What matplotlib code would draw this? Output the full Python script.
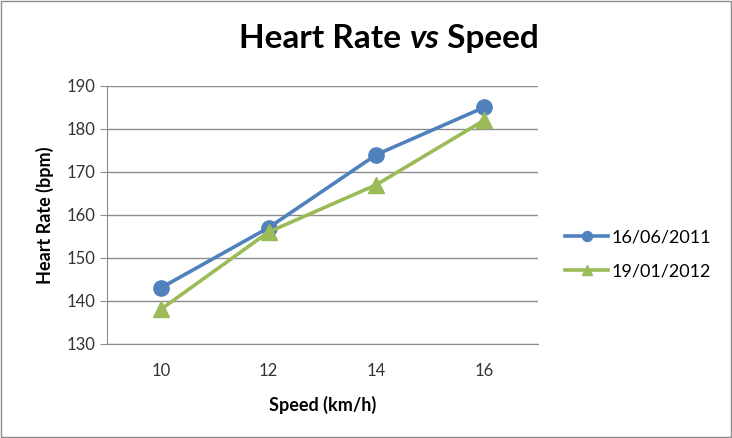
import matplotlib.pyplot as plt
from matplotlib.patches import Rectangle

speeds = ["10", "12", "14", "16"]
hr_2011 = [143, 157, 174, 185]
hr_2012 = [138, 156, 167, 182]
labels = ["16/06/2011", "19/01/2012"]

plt.rcParams['font.family'] = ['Lato', 'DejaVu Sans']

fig = plt.figure(figsize=(7.32, 4.38), dpi=100)
ax = fig.add_axes([0.146, 0.215, 0.589, 0.589])

x = range(len(speeds))
ax.plot(x, hr_2011, color="#4F81BD", lw=2.6, marker="o", ms=11, label=labels[0])
ax.plot(x, hr_2012, color="#9BBB59", lw=2.6, marker="^", ms=11, label=labels[1])

ax.set_xlim(-0.5, 3.5)
ax.set_ylim(130, 190)
ax.set_yticks(range(130, 191, 10))
ax.set_xticks(list(x))
ax.set_xticklabels(speeds)
ax.grid(axis="y", color="#8c8c8c", lw=1)
ax.set_axisbelow(True)
for s in ["top", "right"]:
    ax.spines[s].set_visible(False)
ax.spines["left"].set_color("#8c8c8c")
ax.spines["bottom"].set_color("#8c8c8c")
ax.tick_params(axis="x", length=0, pad=14, labelsize=12, labelcolor="#333333")
ax.tick_params(axis="y", length=5, color="#8c8c8c", labelsize=12, pad=3,
               labelcolor="#333333")

ax.set_xlabel("Speed (km/h)", fontsize=13, fontweight="bold", labelpad=12)
ax.set_ylabel("Heart Rate (bpm)", fontsize=13, fontweight="bold", labelpad=9)

ax.legend(loc="center left", bbox_to_anchor=(1.025, 0.348), frameon=False,
          fontsize=13, handlelength=2.4, labelspacing=1.0, handletextpad=0.2,
          markerscale=0.65)

# title with italic "vs"
t1 = fig.text(0.326, 0.913, "Heart Rate ", fontsize=24, fontweight="bold", va="center")
t2 = ax.annotate("vs", xycoords=t1, xy=(1, 0), va="bottom", fontsize=24,
                 fontweight="bold", fontstyle="italic")
ax.annotate(" Speed", xycoords=t2, xy=(1, 0), va="bottom", fontsize=24,
            fontweight="bold")

fig.patches.append(Rectangle((0.002, 0.003), 0.996, 0.994, transform=fig.transFigure,
                             fill=False, edgecolor="#8c8c8c", lw=1))

plt.savefig("out.png", dpi=100)
